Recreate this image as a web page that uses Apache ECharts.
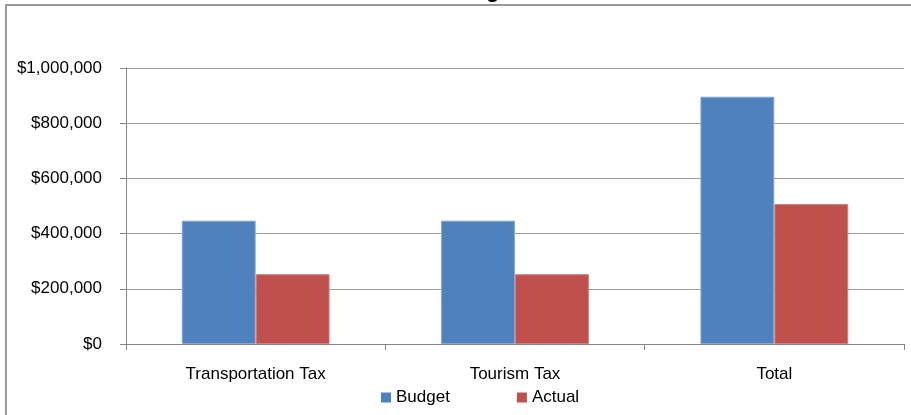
<!DOCTYPE html>
<html>
<head>
<meta charset="utf-8">
<script src="https://cdn.jsdelivr.net/npm/echarts@6/dist/echarts.min.js"></script>
<style>
html,body{margin:0;padding:0;background:#fff;}
#chart{width:911px;height:415px;}
</style>
</head>
<body>
<div id="chart"></div>
<script>
const categories = ['Transportation Tax', 'Tourism Tax', 'Total'];
const budgetValues = [447000, 447000, 896000];
const actualValues = [253000, 253000, 507000];
const seriesNames = ['Budget', 'Actual'];
const titleText = 'Tax Revenue Budget vs. Actual';

const FONT = '"Liberation Sans", Arial, sans-serif';
const chart = echarts.init(document.getElementById('chart'), null, {renderer: 'canvas'});
chart.setOption({
  animation: false,
  backgroundColor: '#ffffff',
  graphic: [
    {type: 'rect', shape: {x: 6, y: 5, width: 1200, height: 800}, style: {fill: 'none', stroke: '#9a9a9a', lineWidth: 2}, z: 0, silent: true},
    {type: 'text', x: 303, y: -9, style: {text: titleText, font: 'bold 22px ' + FONT, fill: '#000', verticalAlign: 'middle', align: 'left'}, z: 1}
  ],
  grid: {left: 126, right: 7, top: 68, bottom: 71, containLabel: false},
  legend: {
    data: seriesNames,
    left: 381, top: 389, padding: 0,
    icon: 'rect', itemWidth: 10, itemHeight: 10, itemGap: 67,
    itemStyle: {borderWidth: 0},
    textStyle: {fontFamily: FONT, fontSize: 17, color: '#000'}
  },
  xAxis: {
    type: 'category',
    data: categories,
    axisLine: {lineStyle: {color: '#868686', width: 1}},
    axisTick: {show: true, length: 6, alignWithLabel: false, lineStyle: {color: '#868686'}},
    axisLabel: {fontFamily: FONT, fontSize: 17, color: '#000', margin: 22, interval: 0},
    splitLine: {show: false}
  },
  yAxis: {
    type: 'value',
    min: 0, max: 1000000, interval: 200000,
    axisLine: {show: true, lineStyle: {color: '#868686', width: 1}},
    axisTick: {show: true, length: 6, lineStyle: {color: '#868686'}},
    axisLabel: {
      fontFamily: FONT, fontSize: 17, color: '#000', margin: 24,
      formatter: v => '$' + v.toLocaleString('en-US')
    },
    splitLine: {show: true, lineStyle: {color: '#9c9c9c', width: 1}}
  },
  series: [
    {name: seriesNames[0], type: 'bar', data: budgetValues, barGap: '0%', barCategoryGap: '43%',
     itemStyle: {color: '#4F81BD', borderColor: '#86a8d6', borderWidth: 1}},
    {name: seriesNames[1], type: 'bar', data: actualValues, barGap: '0%', barCategoryGap: '43%',
     itemStyle: {color: '#C0504D', borderColor: '#d27f7d', borderWidth: 1}}
  ]
});
</script>
</body>
</html>
